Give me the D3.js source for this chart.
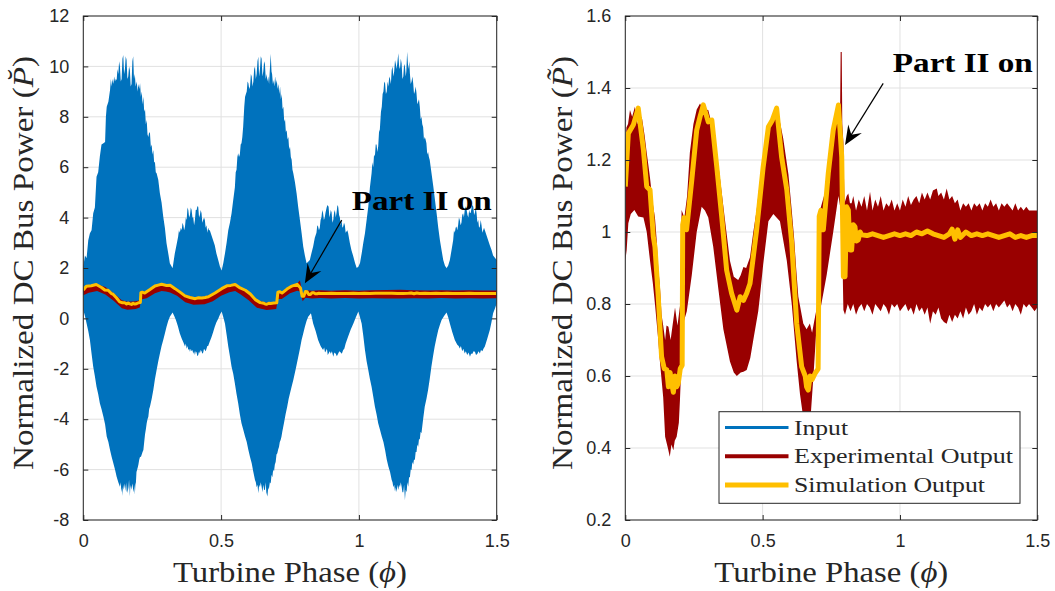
<!DOCTYPE html>
<html>
<head>
<meta charset="utf-8">
<script src="https://cdn.jsdelivr.net/npm/d3@7"></script>
<style>
  body { margin: 0; background: #fff; }
  svg { display: block; }
</style>
</head>
<body>
<svg id="chart" width="1055" height="591"></svg>
<script>
// ---- tick values and labels ----
const phaseTicks = [0, 0.5, 1, 1.5];
const phaseTickLabels = ["0", "0.5", "1", "1.5"];
const leftPowerTicks = [-8, -6, -4, -2, 0, 2, 4, 6, 8, 10, 12];
const leftPowerTickLabels = ["-8", "-6", "-4", "-2", "0", "2", "4", "6", "8", "10", "12"];
const rightPowerTicks = [0.2, 0.4, 0.6, 0.8, 1, 1.2, 1.4, 1.6];
const rightPowerTickLabels = ["0.2", "0.4", "0.6", "0.8", "1", "1.2", "1.4", "1.6"];

const seriesNames = ["Input", "Experimental Output", "Simulation Output"];

// ---- input power envelope [phase, value] (upper / lower edge of the ripple band) ----
const inputUpper = [
  [0,2.05],[0.006,2.5],[0.012,2.4],[0.018,3.1],[0.024,3.38],[0.03,3.5],[0.036,4.17],[0.042,4.4],
  [0.048,5.62],[0.054,5.8],[0.06,6.42],[0.066,6.9],[0.073,6.95],[0.079,7.0],[0.082,8.0],[0.085,8.4],
  [0.091,8.6],[0.097,9.06],[0.1,9.5],[0.103,9.2],[0.106,9.5],[0.109,9.3],[0.112,9.6],[0.115,9.4],
  [0.118,9.5],[0.121,9.46],[0.124,9.9],[0.127,9.7],[0.13,10.2],[0.133,9.99],[0.136,9.4],[0.139,9.5],
  [0.142,10.3],[0.145,10.45],[0.148,9.7],[0.151,9.9],[0.154,10.4],[0.157,10.25],[0.16,9.5],[0.163,9.6],
  [0.166,10.0],[0.169,9.86],[0.172,9.2],[0.175,9.3],[0.178,10.2],[0.181,10.4],[0.184,9.5],[0.187,9.7],
  [0.19,9.2],[0.194,9.4],[0.197,9.0],[0.2,9.3],[0.203,9.1],[0.206,9.33],[0.209,8.8],[0.212,9.0],
  [0.215,8.5],[0.218,8.8],[0.221,8.2],[0.224,8.3],[0.227,7.7],[0.23,7.87],[0.233,7.3],[0.236,7.2],
  [0.239,7.4],[0.242,7.34],[0.245,6.8],[0.248,6.9],[0.251,6.5],[0.254,6.68],[0.257,6.2],[0.26,6.2],
  [0.263,5.8],[0.266,5.76],[0.272,5.5],[0.278,4.96],[0.284,4.6],[0.29,4.04],[0.296,3.6],[0.302,2.98],
  [0.308,2.6],[0.314,2.19],[0.324,1.99],[0.332,2.58],[0.338,2.9],[0.344,3.24],[0.347,3.5],[0.35,3.4],
  [0.354,3.6],[0.357,3.5],[0.36,3.8],[0.363,3.7],[0.366,3.5],[0.369,3.65],[0.372,4.0],[0.375,3.9],
  [0.378,4.4],[0.381,4.3],[0.384,4.0],[0.387,4.1],[0.39,4.4],[0.393,4.3],[0.396,4.0],[0.399,4.0],
  [0.402,3.7],[0.405,3.9],[0.408,4.3],[0.411,4.3],[0.414,4.45],[0.417,4.43],[0.42,4.0],[0.423,4.1],
  [0.426,4.3],[0.429,4.17],[0.432,3.8],[0.435,3.9],[0.438,4.0],[0.441,3.9],[0.444,3.6],[0.447,3.7],
  [0.45,3.4],[0.453,3.6],[0.456,3.5],[0.459,3.5],[0.465,3.3],[0.471,3.1],[0.477,2.9],[0.483,2.58],
  [0.49,2.3],[0.496,2.05],[0.502,1.9],[0.508,2.2],[0.514,2.58],[0.52,3.0],[0.526,3.5],[0.532,3.8],
  [0.538,4.17],[0.544,4.7],[0.55,5.2],[0.553,5.8],[0.556,5.9],[0.559,6.4],[0.562,6.55],[0.565,6.4],
  [0.568,6.5],[0.571,6.9],[0.574,6.95],[0.577,7.2],[0.58,7.6],[0.584,8.4],[0.587,8.8],[0.59,8.9],
  [0.593,9.0],[0.596,9.4],[0.599,9.33],[0.602,9.1],[0.605,9.2],[0.608,9.7],[0.611,9.6],[0.614,9.2],
  [0.617,9.4],[0.62,9.9],[0.623,10.0],[0.626,9.5],[0.629,9.7],[0.632,10.2],[0.635,10.38],[0.638,9.6],
  [0.641,9.9],[0.644,10.4],[0.647,10.3],[0.65,9.6],[0.653,9.8],[0.656,10.2],[0.659,10.1],[0.662,9.5],
  [0.665,9.7],[0.668,9.4],[0.671,9.6],[0.674,9.3],[0.677,9.9],[0.68,10.5],[0.683,9.8],[0.685,9.7],
  [0.688,9.3],[0.69,9.46],[0.693,9.2],[0.696,9.6],[0.699,9.3],[0.702,9.46],[0.705,9.1],[0.708,9.3],
  [0.711,8.9],[0.714,9.2],[0.717,8.7],[0.72,8.9],[0.723,8.3],[0.726,8.4],[0.729,7.8],[0.732,7.9],
  [0.735,7.4],[0.738,7.47],[0.741,7.1],[0.744,7.2],[0.747,6.7],[0.75,6.82],[0.753,6.4],[0.756,6.3],
  [0.759,5.9],[0.762,5.76],[0.768,5.4],[0.774,4.96],[0.78,4.4],[0.786,3.9],[0.792,3.4],[0.798,2.85],
  [0.804,2.5],[0.81,2.19],[0.816,2.25],[0.822,2.32],[0.828,2.6],[0.834,2.85],[0.84,3.2],[0.846,3.4],
  [0.849,3.7],[0.852,3.65],[0.855,3.5],[0.858,3.6],[0.861,3.9],[0.864,4.0],[0.867,4.3],[0.87,4.17],
  [0.873,3.9],[0.876,4.0],[0.879,4.2],[0.883,4.4],[0.886,4.5],[0.89,4.43],[0.893,4.0],[0.895,4.1],
  [0.898,4.3],[0.901,4.2],[0.904,3.8],[0.907,3.9],[0.91,4.2],[0.913,4.3],[0.916,4.0],[0.919,4.2],
  [0.922,4.5],[0.925,4.43],[0.928,4.1],[0.931,4.0],[0.934,3.7],[0.937,3.9],[0.94,3.6],[0.943,3.65],
  [0.946,3.8],[0.949,3.7],[0.952,3.4],[0.955,3.45],[0.958,3.5],[0.961,3.38],[0.967,3.0],[0.973,2.7],
  [0.98,2.45],[0.986,2.2],[0.992,2.0],[0.998,2.05],[1.004,2.2],[1.01,2.58],[1.016,3.0],[1.022,3.38],
  [1.028,3.9],[1.034,4.43],[1.04,5.2],[1.046,5.76],[1.049,6.2],[1.052,6.0],[1.055,6.5],[1.058,6.42],
  [1.061,6.9],[1.064,6.9],[1.067,6.6],[1.07,6.82],[1.073,7.4],[1.076,7.5],[1.08,8.2],[1.083,8.4],
  [1.086,8.9],[1.089,9.0],[1.092,9.4],[1.095,9.33],[1.098,8.9],[1.101,9.0],[1.104,9.4],[1.107,9.2],
  [1.11,9.6],[1.113,9.5],[1.116,9.3],[1.119,9.86],[1.122,10.0],[1.125,9.6],[1.128,9.8],[1.131,10.25],
  [1.134,10.1],[1.137,9.9],[1.14,10.2],[1.143,10.52],[1.146,10.0],[1.149,9.9],[1.152,10.3],[1.155,10.12],
  [1.158,9.5],[1.161,9.6],[1.164,10.1],[1.167,10.0],[1.17,9.6],[1.172,9.8],[1.175,10.58],[1.178,10.1],
  [1.18,9.9],[1.183,10.2],[1.185,9.73],[1.188,9.3],[1.191,9.4],[1.194,9.6],[1.197,9.33],[1.2,8.9],
  [1.203,9.0],[1.206,9.2],[1.209,8.93],[1.212,8.5],[1.215,8.6],[1.218,8.7],[1.221,8.4],[1.224,7.9],
  [1.227,8.0],[1.23,7.7],[1.233,7.6],[1.236,7.1],[1.239,7.2],[1.242,7.1],[1.245,6.95],[1.248,6.5],
  [1.251,6.6],[1.254,6.4],[1.257,6.29],[1.263,5.8],[1.27,5.23],[1.276,4.7],[1.282,4.17],[1.288,3.6],
  [1.294,3.1],[1.3,2.7],[1.306,2.32],[1.312,2.1],[1.318,1.99],[1.324,2.1],[1.33,2.32],[1.336,2.7],
  [1.342,3.1],[1.345,3.5],[1.348,3.4],[1.351,3.6],[1.354,3.65],[1.357,3.5],[1.36,3.7],[1.363,4.0],
  [1.366,3.9],[1.369,3.7],[1.372,3.8],[1.375,4.1],[1.378,4.17],[1.381,4.0],[1.384,4.3],[1.388,4.45],
  [1.391,4.3],[1.394,4.1],[1.397,4.0],[1.4,4.3],[1.403,4.17],[1.406,4.2],[1.409,4.4],[1.412,4.5],
  [1.415,4.43],[1.418,4.1],[1.421,4.2],[1.424,4.4],[1.427,4.17],[1.43,3.8],[1.433,3.9],[1.436,3.6],
  [1.439,3.65],[1.442,3.9],[1.445,3.7],[1.448,3.4],[1.451,3.5],[1.454,3.6],[1.457,3.5],[1.463,3.3],
  [1.469,3.1],[1.475,2.9],[1.481,2.72],[1.487,2.5],[1.494,2.4],[1.5,2.32]
];
const inputLower = [
  [0,0.33],[0.006,0.1],[0.012,-0.2],[0.018,-0.5],[0.024,-0.86],[0.03,-1.4],[0.036,-1.92],[0.042,-2.3],
  [0.048,-2.71],[0.054,-3.0],[0.06,-3.37],[0.066,-3.6],[0.073,-3.9],[0.079,-4.2],[0.085,-4.69],[0.091,-4.9],
  [0.097,-5.22],[0.103,-5.5],[0.109,-5.75],[0.115,-6.0],[0.121,-6.28],[0.127,-6.5],[0.133,-6.68],[0.136,-6.5],
  [0.138,-6.9],[0.141,-6.7],[0.143,-7.05],[0.145,-6.6],[0.147,-6.8],[0.151,-6.55],[0.154,-6.8],[0.156,-6.9],
  [0.158,-6.5],[0.16,-6.94],[0.164,-6.7],[0.166,-6.4],[0.169,-7.07],[0.171,-6.6],[0.174,-6.8],[0.178,-6.55],
  [0.181,-6.8],[0.183,-6.9],[0.185,-6.6],[0.187,-7.0],[0.189,-6.6],[0.191,-6.5],[0.193,-6.1],[0.195,-6.02],
  [0.198,-5.9],[0.2,-5.8],[0.203,-5.6],[0.206,-5.49],[0.209,-5.5],[0.212,-5.4],[0.215,-5.3],[0.218,-5.22],
  [0.221,-4.9],[0.224,-4.6],[0.227,-4.4],[0.23,-4.16],[0.233,-4.0],[0.236,-3.9],[0.239,-3.6],[0.242,-3.5],
  [0.248,-3.2],[0.254,-2.84],[0.26,-2.4],[0.266,-2.05],[0.272,-1.7],[0.278,-1.39],[0.284,-1.1],[0.29,-0.86],
  [0.296,-0.6],[0.302,-0.33],[0.308,-0.1],[0.314,0.07],[0.324,0.23],[0.33,0.1],[0.336,-0.06],[0.343,-0.3],
  [0.35,-0.59],[0.357,-0.8],[0.363,-0.95],[0.369,-1.12],[0.372,-1.0],[0.375,-1.2],[0.378,-1.1],[0.381,-1.25],
  [0.384,-1.2],[0.387,-1.32],[0.39,-1.2],[0.393,-1.3],[0.396,-1.25],[0.399,-1.4],[0.402,-1.3],[0.405,-1.45],
  [0.408,-1.3],[0.411,-1.35],[0.414,-1.5],[0.417,-1.45],[0.42,-1.3],[0.423,-1.39],[0.426,-1.25],[0.429,-1.3],
  [0.432,-1.4],[0.435,-1.35],[0.438,-1.2],[0.441,-1.25],[0.444,-1.3],[0.447,-1.2],[0.45,-1.1],[0.453,-1.1],
  [0.459,-0.92],[0.465,-0.75],[0.471,-0.55],[0.477,-0.33],[0.483,-0.15],[0.49,0.0],[0.496,0.15],[0.502,0.27],
  [0.508,0.05],[0.514,-0.2],[0.52,-0.65],[0.526,-1.12],[0.532,-1.5],[0.538,-1.92],[0.544,-2.2],[0.55,-2.58],
  [0.556,-3.0],[0.562,-3.37],[0.568,-3.8],[0.574,-4.16],[0.58,-4.4],[0.587,-4.69],[0.593,-4.9],[0.599,-5.22],
  [0.605,-5.5],[0.611,-5.75],[0.617,-6.1],[0.623,-6.41],[0.626,-6.5],[0.629,-6.7],[0.632,-6.6],[0.635,-6.94],
  [0.638,-6.6],[0.641,-6.7],[0.644,-6.5],[0.647,-6.68],[0.65,-6.9],[0.653,-6.6],[0.656,-6.8],[0.659,-6.81],
  [0.662,-6.5],[0.664,-6.9],[0.668,-7.07],[0.671,-6.7],[0.673,-6.8],[0.677,-6.5],[0.68,-6.55],[0.683,-6.2],
  [0.686,-6.3],[0.689,-6.0],[0.692,-6.08],[0.695,-5.8],[0.698,-5.7],[0.701,-5.4],[0.704,-5.35],[0.707,-5.2],
  [0.71,-5.1],[0.713,-4.9],[0.716,-4.83],[0.719,-4.7],[0.722,-4.5],[0.728,-4.16],[0.734,-3.8],[0.74,-3.5],
  [0.745,-3.2],[0.75,-2.97],[0.756,-2.7],[0.762,-2.44],[0.771,-2.0],[0.78,-1.52],[0.786,-1.2],[0.792,-0.86],
  [0.798,-0.6],[0.804,-0.33],[0.81,-0.1],[0.816,0.07],[0.826,0.2],[0.834,-0.2],[0.843,-0.5],[0.852,-0.86],
  [0.861,-1.1],[0.867,-1.2],[0.87,-1.25],[0.874,-1.15],[0.877,-1.35],[0.88,-1.3],[0.884,-1.2],[0.887,-1.45],
  [0.89,-1.39],[0.894,-1.3],[0.898,-1.4],[0.902,-1.3],[0.907,-1.52],[0.911,-1.35],[0.916,-1.4],[0.92,-1.5],
  [0.925,-1.39],[0.929,-1.3],[0.934,-1.35],[0.938,-1.4],[0.943,-1.25],[0.947,-1.2],[0.952,-1.0],[0.961,-0.72],
  [0.97,-0.45],[0.98,-0.2],[0.989,0.05],[0.998,0.27],[1.004,0.05],[1.01,-0.2],[1.016,-0.7],[1.022,-1.25],
  [1.028,-1.7],[1.034,-2.05],[1.04,-2.4],[1.046,-2.71],[1.052,-3.1],[1.058,-3.5],[1.064,-3.8],[1.07,-4.16],
  [1.076,-4.4],[1.083,-4.69],[1.089,-4.9],[1.095,-5.22],[1.101,-5.6],[1.107,-5.88],[1.113,-6.1],[1.119,-6.41],
  [1.122,-6.5],[1.125,-6.7],[1.128,-6.6],[1.131,-6.88],[1.134,-6.7],[1.137,-6.9],[1.14,-6.6],[1.143,-6.81],
  [1.146,-6.6],[1.149,-6.7],[1.152,-6.5],[1.155,-6.68],[1.158,-6.9],[1.161,-6.9],[1.164,-6.6],[1.167,-7.21],
  [1.17,-6.8],[1.173,-6.9],[1.176,-6.5],[1.179,-6.68],[1.182,-6.3],[1.185,-6.3],[1.188,-6.0],[1.191,-6.02],
  [1.194,-5.7],[1.197,-5.8],[1.2,-5.6],[1.203,-5.62],[1.206,-5.3],[1.209,-5.3],[1.212,-5.0],[1.215,-5.09],
  [1.218,-4.8],[1.221,-4.8],[1.224,-4.5],[1.227,-4.56],[1.233,-4.0],[1.239,-3.5],[1.245,-3.2],[1.251,-2.84],
  [1.257,-2.4],[1.263,-1.92],[1.269,-1.5],[1.275,-1.12],[1.281,-0.8],[1.288,-0.46],[1.294,-0.25],[1.3,-0.06],
  [1.309,0.1],[1.318,0.23],[1.324,0.05],[1.33,-0.2],[1.339,-0.55],[1.348,-0.86],[1.357,-1.05],[1.362,-1.1],
  [1.366,-1.19],[1.37,-1.1],[1.375,-1.3],[1.379,-1.2],[1.384,-1.39],[1.388,-1.3],[1.393,-1.45],[1.398,-1.35],
  [1.403,-1.52],[1.407,-1.4],[1.412,-1.4],[1.416,-1.3],[1.421,-1.32],[1.425,-1.45],[1.43,-1.4],[1.434,-1.3],
  [1.439,-1.39],[1.443,-1.25],[1.448,-1.3],[1.452,-1.2],[1.457,-1.12],[1.466,-0.8],[1.475,-0.46],[1.481,-0.15],
  [1.487,0.2],[1.494,0.4],[1.5,0.6]
];

// ---- simulated DC bus power [phase, value] ----
const simOutput = [
  [0,1.126],[0.011,1.274],[0.029,1.297],[0.047,1.344],[0.066,1.228],[0.078,1.126],[0.09,1.117],[0.102,0.987],
  [0.108,0.959],[0.12,0.82],[0.132,0.654],[0.142,0.62],[0.151,0.617],[0.157,0.57],[0.163,0.61],[0.169,0.58],
  [0.175,0.555],[0.181,0.6],[0.187,0.57],[0.193,0.58],[0.2,0.62],[0.207,0.63],[0.209,1.02],[0.214,1.04],
  [0.223,1.006],[0.242,1.144],[0.26,1.283],[0.272,1.32],[0.284,1.353],[0.302,1.306],[0.315,1.311],[0.333,1.181],
  [0.351,1.043],[0.369,0.894],[0.387,0.83],[0.406,0.783],[0.418,0.82],[0.43,0.81],[0.442,0.83],[0.454,0.857],
  [0.478,1.006],[0.502,1.181],[0.521,1.292],[0.535,1.31],[0.551,1.344],[0.569,1.209],[0.588,1.117],[0.606,0.969],
  [0.624,0.746],[0.642,0.626],[0.655,0.6],[0.66,0.57],[0.666,0.561],[0.673,0.6],[0.68,0.59],[0.691,0.607],
  [0.702,0.62],[0.706,1.043],[0.712,1.06],[0.721,1.006],[0.739,1.163],[0.757,1.283],[0.776,1.353],[0.788,1.209],
  [0.794,0.876],[0.8,0.876],[0.806,1.07],[0.812,1.061],[0.818,0.95],[0.824,0.95],[0.83,1.02],[0.836,1.015],
  [0.842,0.975],[0.848,0.978],[0.855,1.0],[0.861,0.992],[0.88,0.99],[0.9,0.995],[0.92,0.99],[0.94,0.985],
  [0.96,0.99],[0.98,0.995],[1.0,0.99],[1.02,0.995],[1.04,0.99],[1.06,1.0],[1.08,0.995],[1.1,1.003],
  [1.12,0.995],[1.14,0.99],[1.16,0.985],[1.18,0.995],[1.19,1.008],[1.2,0.98],[1.21,1.006],[1.22,0.985],
  [1.24,1.0],[1.26,0.99],[1.28,0.995],[1.3,0.99],[1.32,0.995],[1.34,0.99],[1.36,0.985],[1.38,0.99],
  [1.4,0.995],[1.42,0.985],[1.44,0.99],[1.46,0.985],[1.48,0.99],[1.5,0.99]
];

// ---- measured DC bus power, left panel band [phase, value] ----
const leftExpUpper = [
  [0,1.2],[0.02,1.3],[0.05,1.36],[0.08,1.25],[0.11,1.0],[0.14,0.72],[0.16,0.66],[0.19,0.68],
  [0.205,0.72],[0.209,1.04],[0.23,1.09],[0.26,1.3],[0.284,1.38],[0.3,1.36],[0.315,1.34],[0.34,1.2],
  [0.37,0.94],[0.4,0.84],[0.44,0.86],[0.47,0.98],[0.5,1.2],[0.53,1.33],[0.551,1.38],[0.57,1.26],
  [0.6,1.02],[0.63,0.72],[0.665,0.62],[0.7,0.66],[0.706,1.06],[0.72,1.06],[0.75,1.3],[0.776,1.39],
  [0.786,1.5],[0.79,1.3],[0.796,0.96],[0.806,1.12],[0.83,1.1],[0.86,1.12],[0.9,1.1],[0.95,1.12],
  [1.0,1.1],[1.05,1.12],[1.1,1.13],[1.15,1.14],[1.2,1.12],[1.25,1.11],[1.3,1.12],[1.35,1.11],
  [1.4,1.12],[1.45,1.11],[1.5,1.11]
];
const leftExpLower = [
  [0,0.92],[0.02,1.02],[0.05,1.09],[0.08,0.95],[0.11,0.7],[0.14,0.4],[0.16,0.34],[0.19,0.37],
  [0.205,0.43],[0.209,0.75],[0.23,0.8],[0.26,1.0],[0.284,1.09],[0.3,1.07],[0.315,1.03],[0.34,0.9],
  [0.37,0.64],[0.4,0.54],[0.44,0.56],[0.47,0.68],[0.5,0.9],[0.53,1.04],[0.551,1.09],[0.57,0.96],
  [0.6,0.72],[0.63,0.42],[0.665,0.33],[0.7,0.37],[0.706,0.77],[0.72,0.77],[0.75,1.0],[0.776,1.1],
  [0.786,1.07],[0.79,0.93],[0.796,0.68],[0.806,0.82],[0.83,0.79],[0.86,0.81],[0.9,0.79],[0.95,0.81],
  [1.0,0.79],[1.05,0.8],[1.1,0.79],[1.15,0.79],[1.2,0.8],[1.25,0.79],[1.3,0.81],[1.35,0.79],
  [1.4,0.8],[1.45,0.79],[1.5,0.8]
];

// ---- measured DC bus power, right panel ripple band [phase, value] ----
const rightExpUpper = [
  [0,1.2],[0.004,1.29],[0.01,1.3],[0.017,1.339],[0.025,1.32],[0.035,1.348],[0.045,1.3],[0.06,1.32],
  [0.07,1.27],[0.078,1.22],[0.085,1.18],[0.09,1.15],[0.1,1.08],[0.108,1.04],[0.114,0.98],[0.12,0.9],
  [0.126,0.85],[0.132,0.77],[0.138,0.74],[0.145,0.7],[0.15,0.74],[0.157,0.737],[0.165,0.7],[0.172,0.74],
  [0.181,0.79],[0.19,0.74],[0.2,0.8],[0.205,1.061],[0.215,1.04],[0.225,1.1],[0.235,1.22],[0.248,1.3],
  [0.26,1.34],[0.272,1.357],[0.285,1.34],[0.302,1.339],[0.315,1.3],[0.327,1.24],[0.34,1.18],[0.351,1.11],
  [0.365,1.02],[0.381,0.92],[0.395,0.876],[0.411,0.867],[0.42,0.88],[0.43,0.903],[0.44,0.9],[0.454,0.93],
  [0.466,1.0],[0.478,1.06],[0.49,1.14],[0.502,1.2],[0.521,1.3],[0.539,1.325],[0.551,1.334],[0.562,1.31],
  [0.575,1.26],[0.594,1.16],[0.606,1.06],[0.615,0.98],[0.622,0.9],[0.63,0.82],[0.648,0.746],[0.66,0.73],
  [0.672,0.746],[0.68,0.72],[0.691,0.765],[0.7,0.8],[0.709,1.061],[0.727,1.11],[0.745,1.23],[0.763,1.31],
  [0.776,1.339],[0.782,1.33],[0.784,1.5],[0.788,1.5],[0.79,1.3],[0.794,1.25],[0.798,1.08],[0.806,1.1],
  [0.812,1.107],[0.818,1.08],[0.824,1.08],[0.83,1.1],[0.84,1.06],[0.85,1.09],[0.86,1.07],[0.87,1.1],
  [0.88,1.06],[0.891,1.112],[0.9,1.06],[0.91,1.09],[0.92,1.07],[0.93,1.1],[0.94,1.06],[0.95,1.08],
  [0.96,1.07],[0.97,1.09],[0.98,1.06],[0.99,1.08],[1.0,1.06],[1.01,1.09],[1.02,1.07],[1.03,1.1],
  [1.04,1.075],[1.05,1.09],[1.06,1.1],[1.07,1.08],[1.08,1.11],[1.09,1.09],[1.1,1.11],[1.11,1.09],
  [1.12,1.115],[1.134,1.121],[1.14,1.1],[1.15,1.11],[1.16,1.09],[1.17,1.121],[1.18,1.09],[1.19,1.1],
  [1.2,1.08],[1.21,1.09],[1.22,1.06],[1.23,1.08],[1.24,1.07],[1.25,1.08],[1.26,1.06],[1.27,1.08],
  [1.28,1.07],[1.29,1.08],[1.3,1.06],[1.31,1.08],[1.32,1.07],[1.33,1.09],[1.34,1.07],[1.35,1.08],
  [1.36,1.06],[1.37,1.08],[1.38,1.07],[1.39,1.08],[1.4,1.07],[1.41,1.06],[1.42,1.08],[1.43,1.06],
  [1.44,1.07],[1.45,1.06],[1.46,1.07],[1.47,1.06],[1.48,1.06],[1.49,1.06],[1.5,1.06]
];
const rightExpLower = [
  [0,0.92],[0.005,0.95],[0.011,1.024],[0.02,1.05],[0.033,1.061],[0.047,1.043],[0.066,1.04],[0.078,1.0],
  [0.09,0.92],[0.1,0.86],[0.108,0.8],[0.12,0.7],[0.126,0.64],[0.138,0.54],[0.145,0.431],[0.155,0.4],
  [0.162,0.376],[0.168,0.41],[0.175,0.394],[0.18,0.42],[0.187,0.431],[0.195,0.47],[0.199,0.533],[0.205,0.65],
  [0.211,0.746],[0.224,0.78],[0.242,0.88],[0.26,1.0],[0.278,1.07],[0.29,1.06],[0.302,1.04],[0.32,0.96],
  [0.339,0.84],[0.357,0.73],[0.381,0.64],[0.395,0.61],[0.406,0.6],[0.42,0.61],[0.43,0.612],[0.442,0.617],
  [0.455,0.65],[0.466,0.7],[0.484,0.78],[0.49,0.82],[0.502,0.91],[0.521,1.03],[0.539,1.05],[0.563,1.03],
  [0.588,0.92],[0.606,0.8],[0.624,0.64],[0.636,0.55],[0.645,0.5],[0.655,0.48],[0.665,0.47],[0.675,0.49],
  [0.685,0.6],[0.697,0.746],[0.709,0.78],[0.733,0.88],[0.757,1.0],[0.776,1.1],[0.788,1.043],[0.794,0.783],
  [0.8,0.77],[0.81,0.8],[0.82,0.78],[0.83,0.8],[0.84,0.77],[0.85,0.79],[0.86,0.8],[0.87,0.78],
  [0.88,0.8],[0.89,0.79],[0.9,0.77],[0.91,0.8],[0.92,0.79],[0.93,0.78],[0.94,0.8],[0.95,0.79],
  [0.96,0.77],[0.97,0.8],[0.98,0.79],[0.99,0.8],[1.0,0.78],[1.01,0.79],[1.02,0.8],[1.03,0.78],
  [1.04,0.79],[1.05,0.77],[1.06,0.8],[1.07,0.78],[1.08,0.79],[1.09,0.77],[1.1,0.79],[1.11,0.745],
  [1.12,0.78],[1.13,0.77],[1.14,0.79],[1.15,0.76],[1.16,0.75],[1.17,0.745],[1.18,0.77],[1.19,0.75],
  [1.2,0.77],[1.21,0.76],[1.22,0.78],[1.23,0.76],[1.24,0.79],[1.25,0.77],[1.26,0.78],[1.27,0.8],
  [1.28,0.77],[1.29,0.79],[1.3,0.78],[1.31,0.8],[1.32,0.79],[1.33,0.8],[1.34,0.78],[1.35,0.8],
  [1.36,0.79],[1.37,0.8],[1.38,0.81],[1.39,0.79],[1.4,0.8],[1.41,0.78],[1.42,0.8],[1.43,0.79],
  [1.44,0.77],[1.45,0.8],[1.46,0.79],[1.47,0.8],[1.48,0.79],[1.49,0.78],[1.5,0.79]
];

// ---- styling ----
const colors = { input: "#0072BD", exp: "#990000", sim: "#FFBF00", axis: "#262626", grid: "#e1e1e1" };
const tickFont = "'Liberation Sans', Arial, Helvetica, sans-serif";
const serifFont = "'Liberation Serif', 'Times New Roman', serif";

const svg = d3.select("#chart");

function drawPanel(cfg) {
  const x = d3.scaleLinear().domain([0, 1.5]).range([cfg.left, cfg.right]);
  const y = d3.scaleLinear().domain(cfg.yDomain).range([cfg.bottom, cfg.top]);
  const g = svg.append("g");

  const clipId = "clip-" + cfg.id;
  svg.append("clipPath").attr("id", clipId).append("rect")
    .attr("x", cfg.left).attr("y", cfg.top)
    .attr("width", cfg.right - cfg.left).attr("height", cfg.bottom - cfg.top);

  // grid
  const grid = g.append("g").attr("stroke", colors.grid).attr("stroke-width", 1);
  grid.selectAll("line.gx").data(phaseTicks).join("line")
    .attr("x1", d => x(d)).attr("x2", d => x(d)).attr("y1", cfg.top).attr("y2", cfg.bottom);
  grid.selectAll("line.gy").data(cfg.yTicks).join("line")
    .attr("y1", d => y(d)).attr("y2", d => y(d)).attr("x1", cfg.left).attr("x2", cfg.right);

  const plot = g.append("g").attr("clip-path", `url(#${clipId})`);

  // envelope bands: upper and lower edges are joined into one polygon
  function bandPath(upper, lower) {
    const pts = upper.map(d => [x(d[0]), y(d[1])])
      .concat(lower.slice().reverse().map(d => [x(d[0]), y(d[1])]));
    return d3.line()(pts) + "Z";
  }

  cfg.draw(plot, x, y, bandPath);

  // axes with inward ticks on all four sides
  const axisG = g.append("g").attr("color", colors.axis);
  const xAxis = d3.axisBottom(x).tickValues(phaseTicks)
    .tickFormat((d, i) => phaseTickLabels[i]).tickSizeInner(-5).tickSizeOuter(0).tickPadding(14);
  const xa = axisG.append("g").attr("transform", `translate(0,${cfg.bottom})`).call(xAxis);
  const xTop = d3.axisTop(x).tickValues(phaseTicks).tickFormat("").tickSizeInner(-5).tickSizeOuter(0);
  const xt = axisG.append("g").attr("transform", `translate(0,${cfg.top})`).call(xTop);
  const yAxis = d3.axisLeft(y).tickValues(cfg.yTicks)
    .tickFormat((d, i) => cfg.yTickLabels[i]).tickSizeInner(-5).tickSizeOuter(0).tickPadding(14);
  const ya = axisG.append("g").attr("transform", `translate(${cfg.left},0)`).call(yAxis);
  const yRight = d3.axisRight(y).tickValues(cfg.yTicks).tickFormat("").tickSizeInner(-5).tickSizeOuter(0);
  const yr = axisG.append("g").attr("transform", `translate(${cfg.right},0)`).call(yRight);
  [xa, xt, ya, yr].forEach(a => {
    a.select(".domain").remove();
    a.selectAll("line").attr("stroke-width", 1);
    a.selectAll("text").attr("font-family", tickFont).attr("font-size", 18).attr("fill", colors.axis);
  });
  g.append("rect")
    .attr("x", cfg.left).attr("y", cfg.top)
    .attr("width", cfg.right - cfg.left).attr("height", cfg.bottom - cfg.top)
    .attr("fill", "none").attr("stroke", colors.axis).attr("stroke-width", 1);

  // axis titles
  const xl = g.append("text")
    .attr("x", (cfg.left + cfg.right) / 2).attr("y", 582)
    .attr("text-anchor", "middle").attr("font-family", serifFont).attr("font-size", 30)
    .attr("fill", colors.axis)
    .attr("textLength", 234).attr("lengthAdjust", "spacingAndGlyphs");
  xl.append("tspan").text("Turbine Phase (");
  xl.append("tspan").attr("font-style", "italic").text("\u03D5");
  xl.append("tspan").text(")");

  const yl = g.append("text")
    .attr("transform", `translate(${cfg.yLabelX},${(cfg.top + cfg.bottom) / 2 - 5}) rotate(-90)`)
    .attr("text-anchor", "middle").attr("font-family", serifFont).attr("font-size", 30)
    .attr("fill", colors.axis)
    .attr("textLength", 414).attr("lengthAdjust", "spacingAndGlyphs");
  yl.append("tspan").text("Normalized DC Bus Power (");
  yl.append("tspan").attr("font-style", "italic").text("P" + cfg.accent);
  yl.append("tspan").text(")");

  // "Part II on" annotation with arrow
  const ann = cfg.annotation;
  g.append("text")
    .attr("x", x(ann.textAt[0])).attr("y", y(ann.textAt[1]))
    .attr("font-family", serifFont).attr("font-weight", "bold").attr("font-size", 28)
    .attr("fill", "#000")
    .attr("textLength", 140).attr("lengthAdjust", "spacingAndGlyphs")
    .text("Part II on");
  const tx = x(ann.tail[0]), ty = y(ann.tail[1]);
  const hx = x(ann.head[0]), hy = y(ann.head[1]);
  const len = Math.hypot(hx - tx, hy - ty);
  const ux = (hx - tx) / len, uy = (hy - ty) / len;
  const nx = -uy, ny = ux;
  const L = 19, W = 8, notch = 7;
  g.append("line").attr("x1", tx).attr("y1", ty)
    .attr("x2", hx - ux * notch).attr("y2", hy - uy * notch)
    .attr("stroke", "#000").attr("stroke-width", 1.2);
  g.append("path")
    .attr("d", d3.line()([
      [hx, hy],
      [hx - ux * L + nx * W, hy - uy * L + ny * W],
      [hx - ux * (L - notch), hy - uy * (L - notch)],
      [hx - ux * L - nx * W, hy - uy * L - ny * W]
    ]) + "Z")
    .attr("fill", "#000");

  return { x, y, g };
}

// ---- left panel: full scale, showing the input ripple ----
drawPanel({
  id: "left", left: 83.3, right: 496.7, top: 16, bottom: 520,
  yDomain: [-8, 12], yTicks: leftPowerTicks, yTickLabels: leftPowerTickLabels,
  yLabelX: 33, accent: "\u0306",
  annotation: { textAt: [0.974, 4.3], tail: [0.9376, 3.9], head: [0.804, 1.39] },
  draw(plot, x, y, bandPath) {
    plot.append("path").attr("d", bandPath(inputUpper, inputLower)).attr("fill", colors.input);
    plot.append("path").attr("d", bandPath(leftExpUpper, leftExpLower)).attr("fill", colors.exp);
    plot.append("path").datum(simOutput)
      .attr("d", d3.line().x(d => x(d[0])).y(d => y(d[1])))
      .attr("fill", "none").attr("stroke", colors.sim).attr("stroke-width", 3)
      .attr("stroke-linejoin", "round");
  }
});

// ---- right panel: zoomed on the output power ----
drawPanel({
  id: "right", left: 625.3, right: 1037.3, top: 16, bottom: 520,
  yDomain: [0.2, 1.6], yTicks: rightPowerTicks, yTickLabels: rightPowerTickLabels,
  yLabelX: 572, accent: "\u0303",
  annotation: { textAt: [0.974, 1.445], tail: [0.939, 1.413], head: [0.80, 1.242] },
  draw(plot, x, y, bandPath) {
    plot.append("path").attr("d", bandPath(rightExpUpper, rightExpLower)).attr("fill", colors.exp);
    plot.append("path").datum(simOutput)
      .attr("d", d3.line().x(d => x(d[0])).y(d => y(d[1])))
      .attr("fill", "none").attr("stroke", colors.sim).attr("stroke-width", 5)
      .attr("stroke-linejoin", "round");
  }
});

// ---- legend (right panel) ----
const legend = svg.append("g");
legend.append("rect")
  .attr("x", 719).attr("y", 411.7).attr("width", 301).attr("height", 91.6)
  .attr("fill", "#fff").attr("stroke", colors.axis).attr("stroke-width", 1);
const legendStyles = [
  { color: colors.input, width: 3, textLen: 54 },
  { color: colors.exp, width: 4, textLen: 219 },
  { color: colors.sim, width: 5, textLen: 191 }
];
seriesNames.forEach((name, i) => {
  const yy = 427.5 + i * 28.8;
  legend.append("line").attr("x1", 725).attr("x2", 788.5).attr("y1", yy).attr("y2", yy)
    .attr("stroke", legendStyles[i].color).attr("stroke-width", legendStyles[i].width);
  legend.append("text").attr("x", 794).attr("y", yy + 7)
    .attr("font-family", serifFont).attr("font-size", 22).attr("fill", colors.axis)
    .attr("textLength", legendStyles[i].textLen).attr("lengthAdjust", "spacingAndGlyphs")
    .text(name);
});
</script>
</body>
</html>
